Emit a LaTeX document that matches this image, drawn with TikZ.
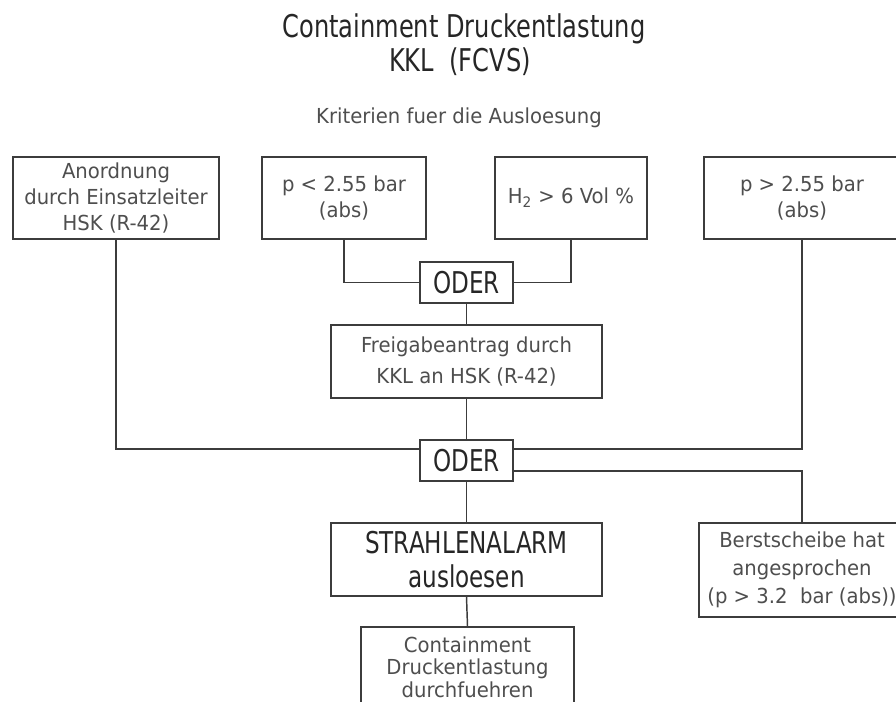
\documentclass[tikz,border=0pt]{standalone}
\usepackage{fontspec}
\setmainfont{DejaVu Sans}
\newfontfamily\boxfont[FakeStretch=0.95]{DejaVu Sans}
\newfontfamily\narrowfont[FakeStretch=0.77]{DejaVu Sans}
\usepackage{tikz}
\usetikzlibrary{positioning,calc}
\definecolor{linegray}{RGB}{60,60,60}
\definecolor{textgray}{RGB}{78,78,78}

\begin{document}
\begin{tikzpicture}[x=0.75pt,y=0.75pt,yscale=-1,xscale=1,
    crit/.style={draw=linegray, line width=1.1pt, inner sep=0pt, align=center,
      font=\boxfont\fontsize{15.5}{19.5}\selectfont, text=textgray},
    gate/.style={draw=linegray, line width=1.1pt, inner sep=0pt,
      minimum width=69.75pt, minimum height=30.75pt,
      font=\narrowfont\fontsize{22.5}{26}\selectfont, text=black!85},
    wire/.style={draw=linegray, line width=1.1pt}]
    \useasboundingbox (0,0) rectangle (896,702);
    \clip (0,0) rectangle (896,702);

    % Text Node
    \node (titleA) at (464,38) [anchor=base, font=\narrowfont\fontsize{23.5}{28}\selectfont, text=black!85] {Containment Druckentlastung};
    % Text Node
    \node (titleB) at (460,72) [anchor=base, font=\narrowfont\fontsize{23.5}{28}\selectfont, text=black!85] {KKL\ \ (FCVS)};
    % Text Node
    \node (crithead) at (459,124) [anchor=base, font=\boxfont\fontsize{15.5}{19.5}\selectfont, text=textgray] {Kriterien fuer die Ausloesung};

    %Shape: Rectangle (criteria row)
    \node (anord) at (116,198) [crit, minimum width=154.5pt, minimum height=61.5pt] {Anordnung\\durch Einsatzleiter\\HSK (R-42)};
    \node (plow) at (344,198) [crit, minimum width=123pt, minimum height=61.5pt] {p < 2.55 bar\\(abs)};
    \node (htwo) at (571,198) [crit, minimum width=114pt, minimum height=61.5pt] {H\textsubscript{2} > 6 Vol \%};
    \node (phigh) at (802,198) [crit, minimum width=147pt, minimum height=61.5pt] {p > 2.55 bar\\(abs)};

    %Shape: Rectangle (gates and actions)
    \node (oderA) at (466.5,282.5) [gate] {ODER};
    \node (freig) at (466.5,361.5) [crit, minimum width=203.25pt, minimum height=54.75pt, font=\boxfont\fontsize{15.5}{23}\selectfont] {Freigabeantrag durch\\KKL an HSK (R-42)};
    \node (oderB) at (466.5,460.5) [gate] {ODER};
    \node (alarm) at (466.5,559.5) [crit, minimum width=203.25pt, minimum height=54.75pt, text=black!85, font=\narrowfont\fontsize{22.5}{25}\selectfont] {STRAHLENALARM\\ausloesen};
    \node (durch) at (467.5,667) [crit, minimum width=159.75pt, minimum height=60pt, font=\boxfont\fontsize{15.5}{17}\selectfont] {Containment\\Druckentlastung\\durchfuehren};
    \node (berst) at (802,570) [crit, minimum width=154.5pt, minimum height=70.5pt, font=\boxfont\fontsize{15.5}{21}\selectfont] {Berstscheibe hat\\angesprochen\\(p > 3.2\ \ bar (abs))};

    % Connectors
    \draw [wire] (plow.south) |- (oderA.west);
    \draw [wire] (htwo.south) |- (oderA.east);
    \draw [wire] (oderA.south) -- (freig.north);
    \draw [wire] (freig.south) -- (oderB.north);
    \draw [wire] (anord.south) |- ($(oderB.west)+(0,-11.5)$);
    \draw [wire] (phigh.south) |- ($(oderB.east)+(0,-11.5)$);
    \draw [wire] ($(oderB.east)+(0,10.5)$) -| (berst.north);
    \draw [wire] (oderB.south) -- (alarm.north);
    \draw [wire] (alarm.south) -- (durch.north);

\end{tikzpicture}
\end{document}
